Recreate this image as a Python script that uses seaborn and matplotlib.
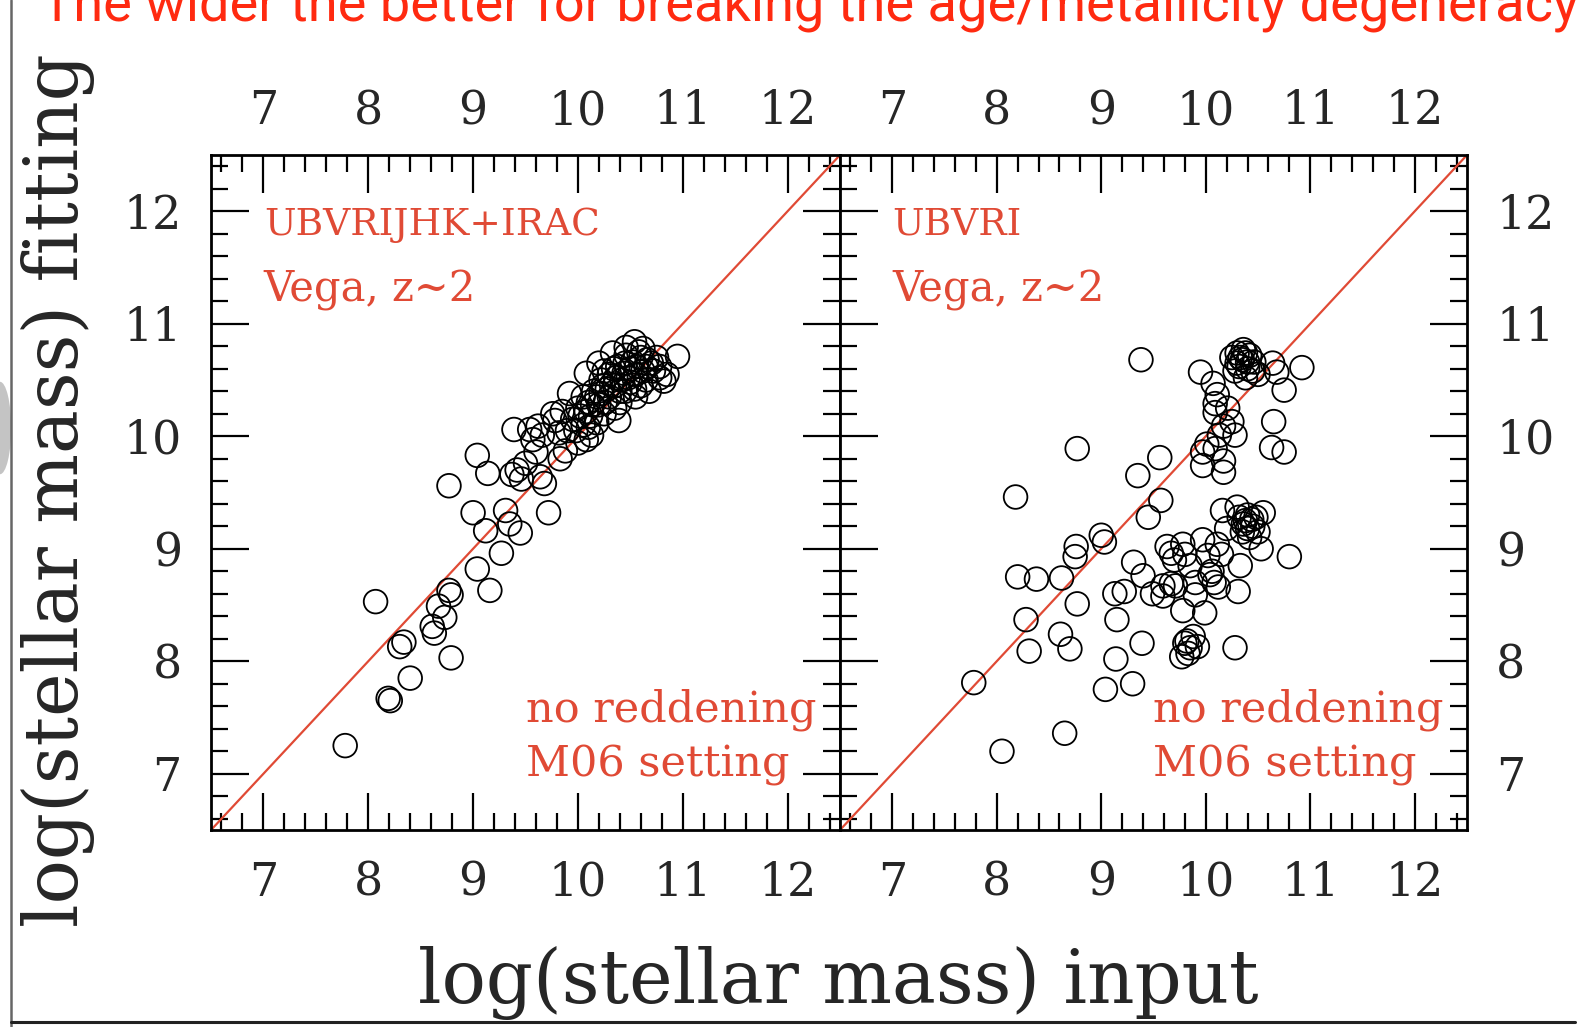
import matplotlib
matplotlib.use("Agg")
import matplotlib.pyplot as plt
from matplotlib.ticker import MultipleLocator
from matplotlib.lines import Line2D
from matplotlib.patches import Ellipse
import pandas as pd
import seaborn as sns

# ---- data -------------------------------------------------------------
# left panel: fit with UBVRIJHK+IRAC photometry
wide_input = [7.78, 8.07, 8.19, 8.21, 8.40, 8.30, 8.34, 8.79,
              8.77, 8.79, 8.67, 8.73, 8.61, 8.63,
              9.04, 9.16, 9.27, 8.77, 9.04, 9.14, 9.00, 9.31, 9.35, 9.12, 9.45, 9.72,
              9.39, 9.37, 9.42, 9.50, 9.62, 9.66, 9.60, 9.64, 9.68, 9.83, 9.57, 9.78,
              9.82, 10.00, 10.08, 9.46,
              10.54, 10.95, 10.78, 10.82, 10.08, 9.92, 9.76, 9.54, 9.88, 10.13, 10.39,
              10.55, 10.65, 10.33, 10.46, 10.20,
              9.95, 10.00, 10.05, 10.10, 10.12, 10.15, 10.20, 10.22, 10.25, 10.30,
              10.30, 10.35, 10.38, 10.40, 10.42, 10.45, 10.50, 10.50, 10.55, 10.60,
              10.60, 10.65, 10.70, 10.72, 10.28, 10.18, 10.05, 9.90, 10.35, 10.45,
              10.58, 10.68, 10.85, 10.75, 9.85, 10.25,
              9.98, 10.02, 10.08, 10.14, 10.18, 10.22, 10.26, 10.32, 10.36, 10.40,
              10.44, 10.48, 10.52, 10.56, 10.62, 10.66, 10.34, 10.24, 10.10, 10.46,
              10.54, 10.62, 10.78]
wide_fit = [7.25, 8.53, 7.67, 7.65, 7.85, 8.13, 8.17, 8.03,
            8.63, 8.59, 8.49, 8.39, 8.31, 8.25,
            8.82, 8.63, 8.96, 9.56, 9.83, 9.67, 9.32, 9.34, 9.22, 9.16, 9.14, 9.32,
            10.06, 9.66, 9.70, 9.76, 10.09, 10.01, 9.86, 9.64, 9.58, 9.80, 9.97, 10.14,
            10.03, 9.94, 9.97, 9.62,
            10.84, 10.71, 10.52, 10.49, 10.56, 10.38, 10.20, 10.06, 9.87, 10.01, 10.14,
            10.35, 10.62, 10.74, 10.79, 10.65,
            10.15, 10.25, 10.10, 10.30, 10.18, 10.40, 10.28, 10.50, 10.20, 10.35,
            10.55, 10.45, 10.62, 10.30, 10.50, 10.40, 10.60, 10.48, 10.55, 10.45,
            10.70, 10.50, 10.65, 10.58, 10.42, 10.12, 10.35, 10.05, 10.25, 10.65,
            10.75, 10.40, 10.55, 10.70, 10.22, 10.58,
            10.05, 10.18, 10.22, 10.28, 10.35, 10.38, 10.30, 10.46, 10.52, 10.40,
            10.56, 10.52, 10.66, 10.62, 10.58, 10.68, 10.60, 10.45, 10.08, 10.72,
            10.42, 10.78, 10.62]

# right panel: fit with UBVRI photometry only
optical_input = [7.78, 8.05, 8.65, 8.31, 8.28, 8.61, 8.70, 8.77,
                 8.20, 8.38, 8.62, 8.18, 8.77, 8.76, 8.75, 9.00, 9.03,
                 9.04, 9.30, 9.14, 9.39, 9.15, 9.13, 9.22, 9.31, 9.40, 9.49,
                 9.59, 9.59, 9.71, 9.63, 9.67, 9.78, 9.80, 9.97, 10.11, 10.02, 9.90,
                 10.04, 10.08, 10.12, 10.31, 10.33, 10.80, 9.78, 9.99,
                 9.80, 9.83, 9.77, 9.92, 9.88, 10.28,
                 10.16, 10.20, 10.30, 10.55, 10.38, 10.35, 10.45, 10.42, 10.40, 10.50,
                 10.48, 10.53, 9.70, 9.90, 10.06, 9.67, 9.85, 10.15,
                 9.38, 9.56, 9.35, 9.57, 9.45,
                 9.95, 10.07, 10.11, 10.09,
                 10.25, 10.30, 10.36, 10.32, 10.40, 10.45, 10.38, 10.50, 10.28, 10.42, 10.35,
                 10.64, 10.68, 10.92, 10.75, 10.65, 10.63, 10.75,
                 10.25, 10.28, 10.17, 10.13, 10.09, 10.01, 9.97, 9.97, 10.17, 10.17,
                 10.09, 10.21,
                 10.33, 10.40, 10.46, 10.30, 10.38,
                 10.36, 10.44, 10.40, 10.32, 9.85, 9.82]
optical_fit = [7.81, 7.20, 7.36, 8.09, 8.37, 8.24, 8.11, 8.51,
               8.75, 8.73, 8.74, 9.46, 9.89, 9.02, 8.93, 9.12, 9.06,
               7.75, 7.80, 8.02, 8.16, 8.37, 8.60, 8.62, 8.88, 8.76, 8.60,
               8.67, 8.58, 8.67, 9.02, 8.96, 9.04, 8.95, 9.08, 9.04, 8.94, 8.59,
               8.77, 8.70, 8.66, 8.62, 8.85, 8.93, 8.45, 8.43,
               8.16, 8.07, 8.04, 8.13, 8.22, 8.12,
               9.34, 9.18, 9.37, 9.32, 9.25, 9.15, 9.20, 9.10, 9.30, 9.15,
               9.28, 9.00, 8.90, 8.70, 8.80, 8.69, 8.85, 8.95,
               10.68, 9.81, 9.65, 9.43, 9.28,
               10.57, 10.47, 10.37, 10.29,
               10.70, 10.74, 10.77, 10.62, 10.66, 10.58, 10.52, 10.55, 10.58, 10.72, 10.68,
               10.65, 10.57, 10.61, 10.41, 10.13, 9.90, 9.86,
               10.13, 10.01, 10.09, 10.01, 9.89, 9.93, 9.86, 9.74, 9.78, 9.68,
               10.21, 10.25,
               10.70, 10.60, 10.66, 10.65, 10.74,
               9.22, 9.26, 9.18, 9.28, 8.12, 8.18]

axis_ticks = [7, 8, 9, 10, 11, 12]
axis_range = (6.5, 12.5)

panels = [
    dict(x=wide_input, y=wide_fit, bands="UBVRIJHK+IRAC"),
    dict(x=optical_input, y=optical_fit, bands="UBVRI"),
]

# ---- style ------------------------------------------------------------
sns.set_style("white")
plt.rcParams["font.family"] = ["DejaVu Serif", "DejaVu Sans"]

label_red = "#e04a35"
title_red = "#ff2a10"

fig = plt.figure(figsize=(15.92, 10.27), dpi=100)
fig.patch.set_facecolor("white")

ax_left = fig.add_axes([0.13254, 0.19182, 0.39510, 0.65725])
ax_right = fig.add_axes([0.52764, 0.19182, 0.39384, 0.65725])

for i, (ax, p) in enumerate(zip([ax_left, ax_right], panels)):
    df = pd.DataFrame({"input": p["x"], "fit": p["y"]})
    sns.scatterplot(data=df, x="input", y="fit", ax=ax, marker="o", s=290,
                    facecolor="none", edgecolor="black", linewidth=1.3,
                    legend=False, zorder=3)
    ax.axline((7, 7), slope=1, color=label_red, lw=1.6, zorder=2)

    ax.set_xlim(*axis_range)
    ax.set_ylim(*axis_range)
    ax.set_xticks(axis_ticks)
    ax.set_yticks(axis_ticks)
    ax.xaxis.set_minor_locator(MultipleLocator(0.2))
    ax.yaxis.set_minor_locator(MultipleLocator(0.2))
    ax.set_xlabel("")
    ax.set_ylabel("")

    ax.tick_params(which="both", direction="in", top=True, bottom=True,
                   left=True, right=True, color="black", width=1.6)
    ax.tick_params(which="major", length=27)
    ax.tick_params(which="minor", length=12.5)
    ax.tick_params(axis="x", which="major", labelsize=33, pad=22,
                   labeltop=False, labelbottom=True)
    ax.tick_params(axis="y", which="major", labelsize=33, pad=21,
                   labelleft=(i == 0), labelright=(i == 1))
    for s in ax.spines.values():
        s.set_visible(True)
        s.set_linewidth(2.0)
        s.set_color("black")
    ax.set_facecolor("white")

    # numbers along the top edge, set a little closer than the bottom ones
    top = ax.secondary_xaxis("top")
    top.set_xticks(axis_ticks)
    top.tick_params(axis="x", which="both", length=0, labelsize=33, pad=15)
    top.spines["top"].set_visible(False)

    ax.text(0.084, 0.882, p["bands"], transform=ax.transAxes, color=label_red,
            fontsize=27, ha="left", va="baseline")
    ax.text(0.084, 0.783, "Vega, z~2", transform=ax.transAxes, color=label_red,
            fontsize=30, ha="left", va="baseline")
    ax.text(0.500, 0.161, "no reddening", transform=ax.transAxes, color=label_red,
            fontsize=31, ha="left", va="baseline")
    ax.text(0.500, 0.080, "M06 setting", transform=ax.transAxes, color=label_red,
            fontsize=31, ha="left", va="baseline")

# shared axis titles
fig.text(838 / 1592, 1 - 983 / 1027, "log(stellar mass) input", fontsize=53,
         ha="center", va="center")
fig.text(58 / 1592, 1 - 490 / 1027, "log(stellar mass) fitting", fontsize=53,
         rotation=90, ha="center", va="center")

# headline, running off the top edge
fig.text(810 / 1592, 1 - 21 / 1027,
         "The wider the better for breaking the age/metallicity degeneracy",
         fontsize=39, color=title_red, ha="center", va="baseline",
         family=["Roboto", "DejaVu Sans"])

# slide frame
fig.add_artist(Ellipse((0.0, 1 - 428 / 1027), 0.014, 0.09,
                       transform=fig.transFigure, color="#c4c4c4", lw=0))
fig.add_artist(Line2D([11 / 1592, 11 / 1592], [0.0, 1.0],
                      transform=fig.transFigure, color="#666666", lw=1.8))
fig.add_artist(Line2D([11 / 1592, 1575 / 1592], [1 - 1022 / 1027, 1 - 1022 / 1027],
                      transform=fig.transFigure, color="#222222", lw=2.2))

fig.savefig("out.png", dpi=100, facecolor="white")
